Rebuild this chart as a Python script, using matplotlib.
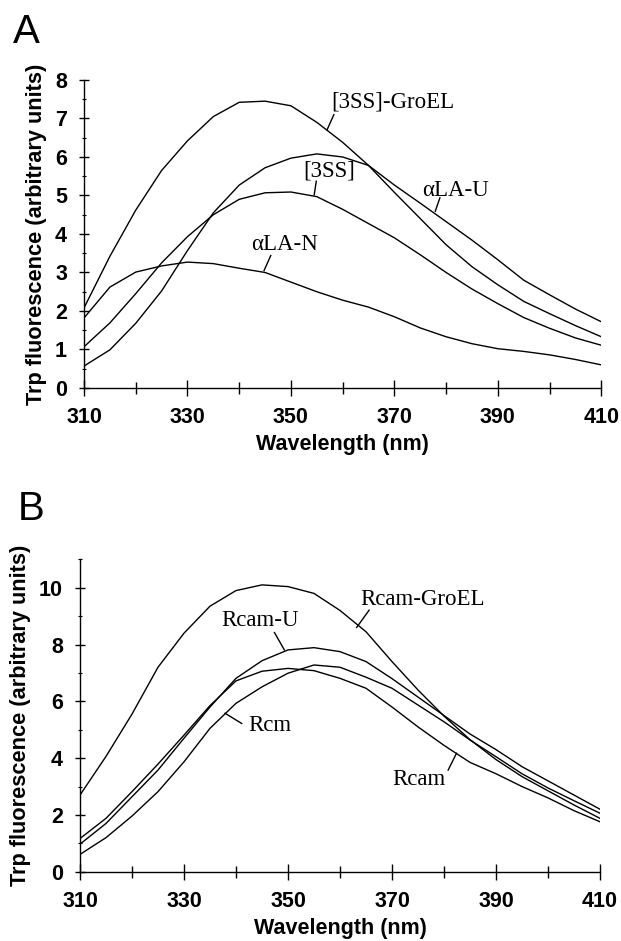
import matplotlib.pyplot as plt

# wavelength grid (nm), read every 5 nm
wavelengths = [310, 315, 320, 325, 330, 335, 340, 345, 350, 355, 360,
               365, 370, 375, 380, 385, 390, 395, 400, 405, 410]

# panel A: alpha-lactalbumin
groel_3ss = [2.08, 3.42, 4.62, 5.65, 6.42, 7.05, 7.42, 7.45, 7.33, 6.90, 6.38,
             5.78, 5.08, 4.40, 3.72, 3.15, 2.68, 2.25, 1.93, 1.62, 1.33]
ala_u = [0.57, 0.99, 1.68, 2.52, 3.57, 4.55, 5.27, 5.72, 5.97, 6.08, 6.00,
         5.78, 5.27, 4.80, 4.32, 3.84, 3.33, 2.80, 2.42, 2.05, 1.72]
ss3 = [1.07, 1.69, 2.45, 3.25, 3.93, 4.50, 4.90, 5.07, 5.09, 4.97, 4.64,
       4.27, 3.90, 3.46, 3.00, 2.57, 2.19, 1.83, 1.55, 1.30, 1.11]
ala_n = [1.82, 2.62, 3.01, 3.17, 3.27, 3.23, 3.11, 3.00, 2.75, 2.50, 2.28,
         2.10, 1.85, 1.56, 1.33, 1.15, 1.02, 0.95, 0.86, 0.74, 0.60]

# panel B: rhodanese
rcam_groel = [2.70, 4.06, 5.55, 7.20, 8.40, 9.35, 9.90, 10.10, 10.04, 9.80, 9.20,
              8.45, 7.40, 6.40, 5.48, 4.65, 3.95, 3.35, 2.85, 2.35, 1.88]
rcam_u = [0.97, 1.70, 2.64, 3.58, 4.70, 5.80, 6.81, 7.43, 7.81, 7.89, 7.75,
          7.40, 6.80, 6.15, 5.50, 4.85, 4.30, 3.70, 3.20, 2.70, 2.20]
rcam = [1.17, 1.88, 2.82, 3.79, 4.81, 5.85, 6.72, 7.06, 7.16, 7.08, 6.81,
        6.46, 5.80, 5.10, 4.45, 3.85, 3.45, 3.00, 2.60, 2.15, 1.76]
rcm = [0.61, 1.20, 1.96, 2.82, 3.87, 5.05, 5.93, 6.51, 6.99, 7.28, 7.20,
       6.85, 6.46, 5.87, 5.28, 4.64, 4.05, 3.45, 2.95, 2.50, 2.06]

seriesA = [groel_3ss, ala_u, ss3, ala_n]
seriesB = [rcam_groel, rcam_u, rcam, rcm]
labelsA = ["[3SS]-GroEL", "[3SS]", "\u03b1LA-U", "\u03b1LA-N"]
labelsB = ["Rcam-GroEL", "Rcam-U", "Rcm", "Rcam"]

xMajor = [310, 330, 350, 370, 390, 410]
xMinor = [320, 340, 360, 380, 400]

# label placement: text centre, leader start, leader end (data coords)
placeA = [((369.6, 7.44), (358.3, 7.10), (357.0, 6.71)),
          ((357.3, 5.64), (354.9, 5.37), (354.5, 5.02)),
          ((381.9, 5.14), (378.8, 4.94), (377.9, 4.59)),
          ((348.7, 3.72), (346.1, 3.44), (344.8, 3.05))]
placeB = [((375.8, 9.57), (365.6, 9.21), (363.2, 8.60)),
          ((344.6, 8.83), (347.4, 8.42), (349.3, 7.81)),
          ((346.5, 5.14), (341.1, 5.22), (337.9, 5.58)),
          ((375.1, 3.26), (380.8, 3.58), (382.4, 4.17))]

SANS = "Liberation Sans"
SERIF = "Liberation Serif"


def styleAxes(ax, ymax, yMajor, yMinor):
    ax.set_xlim(310, 410)
    ax.set_ylim(0, ymax)
    ax.spines["top"].set_visible(False)
    ax.spines["right"].set_visible(False)
    ax.spines["left"].set_linewidth(1.0)
    ax.spines["bottom"].set_linewidth(1.0)
    ax.set_xticks(xMajor)
    ax.set_xticks(xMinor, minor=True)
    ax.set_yticks(yMajor)
    ax.set_yticks(yMinor, minor=True)
    ax.tick_params(axis="x", which="major", direction="inout", length=12, width=1, pad=8)
    ax.tick_params(axis="x", which="minor", direction="inout", length=8, width=1)
    ax.tick_params(axis="y", which="major", direction="inout", length=6.5, width=1, pad=9)
    ax.tick_params(axis="y", which="minor", direction="inout", length=3, width=0.8)
    for t in ax.get_xticklabels() + ax.get_yticklabels():
        t.set_fontfamily(SANS)
        t.set_fontweight("bold")
        t.set_fontsize(15.5)
    ax.set_xlabel("Wavelength (nm)", fontfamily=SANS, fontweight="bold", fontsize=15.5, labelpad=4)
    ax.set_ylabel("Trp fluorescence (arbitrary units)", fontfamily=SANS, fontweight="bold",
                  fontsize=15.7, labelpad=6)


def drawPanel(ax, series, labels, places):
    for ys in series:
        ax.plot(wavelengths, ys, color="k", lw=1.0, solid_joinstyle="round")
    for label, (txt, p0, p1) in zip(labels, places):
        ax.text(txt[0], txt[1], label, ha="center", va="center",
                fontfamily=SERIF, fontsize=16.5)
        ax.plot([p0[0], p1[0]], [p0[1], p1[1]], color="k", lw=1.0)


fig = plt.figure(figsize=(6.21, 9.41), dpi=100)

axA = fig.add_axes([0.1353, 0.5877, 0.833, 0.3273])
drawPanel(axA, seriesA, labelsA, placeA)
styleAxes(axA, 8, [0, 1, 2, 3, 4, 5, 6, 7, 8], [0.5, 1.5, 2.5, 3.5, 4.5, 5.5, 6.5, 7.5])

axB = fig.add_axes([0.1288, 0.0736, 0.8374, 0.332])
drawPanel(axB, seriesB, labelsB, placeB)
styleAxes(axB, 11, [0, 2, 4, 6, 8, 10], [1, 3, 5, 7, 9, 11])

fig.text(13 / 621, 1 - 43 / 941, "A", fontfamily=SANS, fontsize=29, va="baseline")
fig.text(18 / 621, 1 - 520 / 941, "B", fontfamily=SANS, fontsize=29, va="baseline")

plt.savefig("out.png", dpi=100)
